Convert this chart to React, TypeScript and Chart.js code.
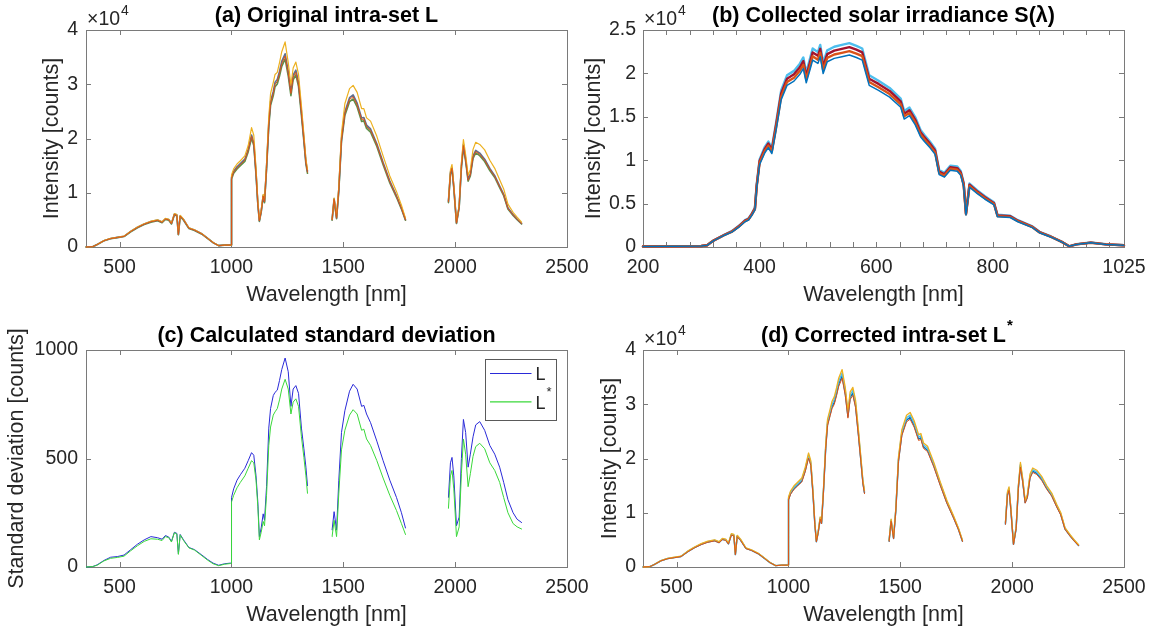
import React, { useEffect, useRef } from "react";
import { Chart, registerables } from "chart.js";

Chart.register(...registerables);

const FONT = '"Liberation Sans", Arial, Helvetica, sans-serif';
const TXT = "#262626";
const BOX = "#7a7a7a";

// ---------- Panels (a), (c), (d): wavelength grid [nm]; 1395 and 1875 are gaps ----------
const wlL = [
  350, 380, 400, 430, 460, 490, 520, 550, 580, 610, 640, 670, 690, 705, 720, 732, 745, 756, 763, 771, 786, 810, 835, 868, 893, 918, 943, 970, 996, 1000,
  1000.5, 1010, 1025, 1040, 1060, 1075, 1090, 1100, 1110, 1118, 1125, 1133, 1142, 1148, 1157, 1167, 1175, 1187, 1195, 1205, 1215, 1225, 1240, 1254, 1266, 1276, 1288, 1300, 1313, 1324, 1333, 1340,
  1395,
  1450, 1459, 1470, 1480, 1492, 1507, 1528, 1544, 1562, 1582, 1592, 1604, 1622, 1650, 1678, 1708, 1738, 1760, 1778,
  1875,
  1970, 1979, 1986, 1994, 2006, 2018, 2028, 2037, 2047, 2058, 2068, 2080, 2092, 2110, 2132, 2155, 2177, 2199, 2217, 2236, 2259, 2277, 2297,
];

// (a) Original intra-set L [counts]
const aMid = [
  0, 50, 450, 1150, 1550, 1750, 1950, 2850, 3600, 4200, 4650, 4900, 4550, 5150, 5000, 4300, 6000, 5850, 2300, 5700, 5000, 3450, 3100, 2400, 1600, 800, 250, 350, 350, 350,
  12700, 13800, 14600, 15200, 16000, 17800, 20400, 19000, 13500, 8000, 4800, 6500, 9400, 8300, 14500, 22500, 26500, 28300, 30000, 30500, 32000, 33800, 35200, 32000, 28300, 31300, 32200, 30000, 24600, 19700, 15500, 13800,
  null,
  5000, 8800, 5300, 10500, 19700, 24600, 27200, 27700, 26200, 23500, 23600, 22200, 21500, 18800, 15400, 12000, 9300, 7100, 5000,
  null,
  8300, 13600, 14500, 11000, 4400, 7400, 14800, 18700, 16000, 12300, 13300, 16600, 17600, 17100, 16000, 14300, 13000, 11100, 9600, 7100, 5900, 5100, 4300,
];
const aUpper = [
  0, 50, 455, 1165, 1570, 1770, 1975, 2885, 3645, 4250, 4705, 4960, 4605, 5210, 5060, 4350, 6070, 5920, 2330, 5770, 5060, 3490, 3140, 2430, 1620, 810, 255, 355, 355, 355,
  12850, 13960, 14780, 15380, 16190, 18010, 20640, 19230, 13660, 8100, 4860, 6580, 9510, 8400, 14670, 22770, 26820, 28640, 30360, 30870, 32380, 34210, 35620, 32380, 28640, 31680, 32590, 30360, 24900, 19940, 15690, 13970,
  null,
  5060, 8910, 5360, 10630, 19940, 24900, 27530, 28030, 26510, 23780, 23880, 22470, 21760, 19030, 15580, 12140, 9410, 7190, 5060,
  null,
  8400, 13760, 14670, 11130, 4450, 7490, 14980, 18920, 16190, 12450, 13460, 16800, 17810, 17310, 16190, 14470, 13160, 11230, 9720, 7190, 5970, 5160, 4350,
];
const aLower = [
  0, 50, 443, 1133, 1527, 1724, 1921, 2807, 3546, 4137, 4580, 4827, 4482, 5073, 4925, 4236, 5910, 5762, 2266, 5615, 4925, 3398, 3054, 2364, 1576, 788, 246, 345, 345, 345,
  12510, 13590, 14380, 14970, 15760, 17530, 20090, 18720, 13300, 7880, 4730, 6400, 9260, 8180, 14280, 22160, 26100, 27880, 29550, 30040, 31520, 33290, 34670, 31520, 27880, 30830, 31720, 29550, 24230, 19400, 15270, 13590,
  null,
  4930, 8670, 5220, 10340, 19400, 24230, 26790, 27280, 25810, 23150, 23250, 21870, 21180, 18520, 15170, 11820, 9160, 6990, 4930,
  null,
  8180, 13400, 14280, 10840, 4330, 7290, 14580, 18420, 15760, 12120, 13100, 16350, 17340, 16840, 15760, 14090, 12810, 10930, 9460, 6990, 5810, 5020, 4240,
];
const aTop = [
  0, 50, 460, 1175, 1585, 1790, 1995, 2915, 3680, 4295, 4755, 5010, 4655, 5265, 5115, 4400, 6140, 5985, 2350, 5830, 5115, 3530, 3170, 2455, 1635, 820, 255, 360, 360, 360,
  13300, 14400, 15300, 15900, 16800, 18700, 22000, 20600, 14500, 8600, 4900, 6800, 9700, 8600, 15400, 24000, 28300, 30300, 31800, 32200, 34000, 36000, 37800, 34000, 29800, 33000, 34100, 31800, 26000, 20700, 16200, 14300,
  null,
  5100, 9000, 5500, 11200, 21000, 26400, 29200, 29800, 28500, 25500, 25500, 23800, 23200, 20400, 16800, 13100, 10200, 7700, 5300,
  null,
  8500, 14200, 15200, 11500, 4500, 7700, 15600, 19800, 17000, 13200, 14300, 18000, 19300, 18900, 17900, 16000, 14500, 12400, 10700, 7900, 6400, 5500, 4600,
];

// (c) Standard deviation [counts]
const cL = [
  0, 2, 10, 30, 45, 48, 55, 80, 105, 125, 140, 135, 128, 145, 138, 118, 160, 155, 60, 150, 125, 90, 80, 55, 35, 18, 8, 15, 18, 18,
  320, 360, 400, 425, 455, 490, 527, 515, 420, 300, 140, 180, 245, 215, 370, 640, 730, 790, 805, 815, 860, 910, 963, 900, 740, 820, 836, 800, 640, 545, 460, 375,
  null,
  170, 255, 170, 400, 620, 720, 810, 842, 820, 740, 745, 705, 665, 580, 490, 400, 320, 250, 180,
  null,
  320, 480, 505, 420, 190, 230, 500, 680, 620, 460, 520, 600, 655, 670, 630, 560, 520, 460, 390, 310, 250, 220, 205,
];
const cLstar = [
  0, 2, 8, 28, 40, 44, 50, 75, 98, 118, 130, 128, 122, 140, 135, 115, 158, 152, 58, 148, 122, 88, 78, 52, 32, 15, 6, 13, 16, 16,
  300, 330, 365, 390, 420, 455, 490, 480, 400, 280, 125, 160, 210, 190, 330, 560, 645, 700, 715, 730, 770, 820, 865, 820, 705, 760, 775, 740, 600, 505, 420, 340,
  null,
  140, 215, 140, 340, 540, 630, 700, 725, 705, 630, 635, 590, 560, 490, 410, 330, 260, 200, 150,
  null,
  270, 420, 445, 360, 140, 185, 430, 590, 520, 370, 430, 510, 555, 570, 545, 480, 445, 390, 320, 250, 200, 185, 175,
];
const cLegendLabels = ["L", "L*"];

// (d) Corrected intra-set L* [counts]
const dTop = [
  0, 50, 460, 1180, 1590, 1795, 2000, 2920, 3690, 4305, 4765, 5020, 4665, 5280, 5125, 4410, 6150, 6000, 2360, 5845, 5125, 3535, 3180, 2460, 1640, 820, 255, 360, 360, 360,
  12900, 14040, 14970, 15580, 16400, 18350, 21010, 19580, 13840, 8200, 4820, 6560, 9230, 8300, 14660, 22860, 27270, 29210, 30550, 31370, 33010, 34850, 36390, 33110, 28700, 32290, 33110, 30750, 25220, 20190, 15990, 14150,
  null,
  4920, 8820, 5430, 10760, 20300, 25320, 27980, 28500, 26960, 24400, 24600, 22860, 22240, 19270, 15790, 12300, 9430, 7180, 4920,
  null,
  8200, 13840, 14760, 11070, 4310, 7380, 15170, 19270, 16400, 12300, 13330, 17120, 18250, 17840, 16710, 14970, 13630, 11580, 10050, 7280, 5950, 5020, 4100,
];
const dTeal = [
  0, 50, 454, 1160, 1560, 1765, 1965, 2875, 3630, 4235, 4685, 4940, 4585, 5190, 5040, 4335, 6050, 5895, 2320, 5745, 5040, 3480, 3125, 2420, 1615, 805, 252, 353, 353, 353,
  12700, 13810, 14720, 15320, 16130, 18040, 20660, 19250, 13610, 8060, 4740, 6450, 9070, 8160, 14410, 22480, 26810, 28730, 30040, 30840, 32460, 34270, 35780, 32560, 28220, 31750, 32560, 30240, 24800, 19860, 15720, 13910,
  null,
  4840, 8670, 5340, 10580, 19960, 24900, 27520, 28020, 26510, 23990, 24190, 22480, 21870, 18950, 15520, 12100, 9270, 7060, 4840,
  null,
  8060, 13610, 14520, 10890, 4230, 7260, 14920, 18950, 16130, 12100, 13100, 16830, 17940, 17540, 16430, 14720, 13410, 11390, 9880, 7160, 5850, 4940, 4030,
];
const dBlue = [
  0, 50, 446, 1140, 1540, 1735, 1935, 2825, 3570, 4165, 4615, 4860, 4515, 5110, 4960, 4265, 5950, 5805, 2280, 5655, 4960, 3420, 3075, 2380, 1585, 795, 248, 347, 347, 347,
  12500, 13590, 14480, 15080, 15870, 17760, 20340, 18950, 13390, 7940, 4660, 6350, 8930, 8040, 14190, 22120, 26390, 28270, 29560, 30360, 31940, 33730, 35220, 32040, 27780, 31250, 32040, 29760, 24400, 19540, 15480, 13690,
  null,
  4760, 8530, 5260, 10420, 19640, 24500, 27080, 27580, 26090, 23610, 23810, 22120, 21530, 18650, 15280, 11900, 9130, 6940, 4760,
  null,
  7940, 13390, 14280, 10710, 4170, 7140, 14680, 18650, 15870, 11900, 12900, 16570, 17660, 17260, 16170, 14480, 13190, 11210, 9720, 7040, 5750, 4860, 3970,
];
const dOrange = [
  0, 50, 441, 1127, 1519, 1715, 1911, 2793, 3528, 4116, 4557, 4802, 4459, 5047, 4900, 4214, 5880, 5733, 2254, 5586, 4900, 3381, 3038, 2352, 1568, 784, 245, 343, 343, 343,
  12350, 13430, 14310, 14900, 15680, 17540, 20090, 18720, 13230, 7840, 4610, 6270, 8820, 7940, 14010, 21850, 26070, 27930, 29200, 29990, 31560, 33320, 34790, 31650, 27440, 30870, 31650, 29400, 24110, 19310, 15290, 13520,
  null,
  4700, 8430, 5190, 10290, 19400, 24210, 26750, 27240, 25770, 23320, 23520, 21850, 21270, 18420, 15090, 11760, 9020, 6860, 4700,
  null,
  7840, 13230, 14110, 10580, 4120, 7060, 14500, 18420, 15680, 11760, 12740, 16370, 17440, 17050, 15970, 14310, 13030, 11070, 9600, 6960, 5680, 4800, 3920,
];

// ---------- Panel (b): collected solar irradiance ----------
const wlS = [
  200, 250, 300, 310, 320, 340, 353, 365, 375, 381, 387, 392, 395, 400, 409, 415, 421, 428, 437, 447,
  459, 469, 475, 480, 487, 491, 500, 504, 509, 516, 528, 541, 554, 566, 576, 582, 588, 604, 623, 642,
  648, 657, 667, 676, 683, 692, 701, 708, 717, 727, 739, 745, 750, 754, 760, 774, 786, 802, 808, 830,
  843, 868, 880, 899, 918, 931, 943, 968, 994, 1025,
];
const sHigh = [
  50, 80, 125, 205, 720, 1440, 1850, 2470, 3090, 3300, 3910, 4530, 7210, 10090, 11540, 12150, 11430, 14210, 18030, 19780,
  20290, 21120, 21840, 20090, 21840, 22870, 22450, 23280, 21220, 22660, 23070, 23280, 23480, 23180, 22870, 21320, 19780, 19160, 18330, 17100,
  15660, 16070, 14940, 13490, 12880, 12150, 11330, 8860, 8550, 9370, 9270, 8760, 7420, 3910, 7310, 6490, 5870, 5150, 3710, 3600,
  3090, 2370, 1750, 1240, 620, 82, 310, 515, 310, 205,
];
const sMidHigh = [
  50, 80, 121, 202, 707, 1414, 1818, 2424, 3030, 3230, 3840, 4440, 7070, 9900, 11310, 11920, 11210, 13940, 17680, 19390,
  19900, 20710, 21410, 19700, 21410, 22420, 22020, 22830, 20810, 22220, 22620, 22830, 23030, 22730, 22420, 20910, 19390, 18790, 17980, 16770,
  15350, 15760, 14650, 13230, 12630, 11920, 11110, 8690, 8380, 9190, 9090, 8590, 7270, 3840, 7170, 6360, 5760, 5050, 3640, 3535,
  3030, 2320, 1720, 1210, 606, 81, 303, 505, 303, 202,
];
const sMidLow = [
  50, 80, 119, 198, 693, 1386, 1782, 2376, 2970, 3170, 3760, 4360, 6930, 9700, 11090, 11680, 10990, 13660, 17330, 19010,
  19500, 20300, 20990, 19310, 20990, 21980, 21580, 22370, 20390, 21780, 22180, 22370, 22570, 22280, 21980, 20490, 19010, 18410, 17620, 16430,
  15050, 15440, 14360, 12970, 12380, 11680, 10890, 8510, 8220, 9010, 8910, 8420, 7130, 3760, 7030, 6240, 5640, 4950, 3560, 3465,
  2970, 2280, 1680, 1190, 594, 79, 297, 495, 297, 198,
];
const sLow = [
  50, 80, 116, 194, 680, 1360, 1750, 2330, 2910, 3100, 3690, 4270, 6790, 9510, 10860, 11450, 10770, 13390, 16980, 18620,
  19110, 19890, 20560, 18920, 20560, 21530, 21150, 21920, 19980, 21340, 21730, 21920, 22120, 21830, 21530, 20080, 18620, 18040, 17270, 16100,
  14740, 15130, 14070, 12710, 12130, 11450, 10670, 8340, 8050, 8830, 8730, 8250, 6980, 3690, 6890, 6110, 5530, 4850, 3490, 3400,
  2910, 2230, 1650, 1160, 580, 78, 290, 485, 290, 194,
];

// ---------- ticks ----------
const lXTicks = [500, 1000, 1500, 2000, 2500];
const lXTickLabels = ["500", "1000", "1500", "2000", "2500"];
const lYTicks = [0, 10000, 20000, 30000, 40000];
const lYTickLabels = ["0", "1", "2", "3", "4"];
const bXTicks = [200, 240, 280, 320, 360, 400, 440, 480, 520, 560, 600, 640, 680, 720, 760, 800, 840, 880, 920, 960, 1000, 1025];
const bXTickLabels = ["200", "", "", "", "", "400", "", "", "", "", "600", "", "", "", "", "800", "", "", "", "", "", "1025"];
const bYTicks = [0, 5000, 10000, 15000, 20000, 25000];
const bYTickLabels = ["0", "0.5", "1", "1.5", "2", "2.5"];
const cYTicks = [0, 500, 1000];
const cYTickLabels = ["0", "500", "1000"];

const panelTitles = [
  "(a) Original intra-set L",
  "(b) Collected solar irradiance S(λ)",
  "(c) Calculated standard deviation",
  "(d) Corrected intra-set L",
];
const panelTitleSup = ["", "", "", "*"];

// ---------- drawing helpers ----------
const H = 316;

function pts(xs: number[], ys: (number | null)[]) {
  return xs.map((x, i) => ({ x, y: ys[i] }));
}

const matlabPlugin = {
  id: "matlab",
  beforeDatasetsDraw(chart: any) {
    const { ctx, chartArea: ca } = chart;
    const xs = chart.scales.x;
    const ys = chart.scales.y;
    ctx.save();
    ctx.strokeStyle = BOX;
    ctx.lineWidth = 1;
    const TL = 5;
    ctx.beginPath();
    xs.ticks.forEach((t: any) => {
      const px = Math.round(xs.getPixelForValue(t.value)) + 0.5;
      ctx.moveTo(px, ca.bottom);
      ctx.lineTo(px, ca.bottom - TL);
      ctx.moveTo(px, ca.top);
      ctx.lineTo(px, ca.top + TL);
    });
    ys.ticks.forEach((t: any) => {
      const py = Math.round(ys.getPixelForValue(t.value)) + 0.5;
      ctx.moveTo(ca.left, py);
      ctx.lineTo(ca.left + TL, py);
      ctx.moveTo(ca.right, py);
      ctx.lineTo(ca.right - TL, py);
    });
    ctx.stroke();
    ctx.strokeRect(
      Math.round(ca.left) + 0.5,
      Math.round(ca.top) + 0.5,
      Math.round(ca.right - ca.left),
      Math.round(ca.bottom - ca.top)
    );
    ctx.restore();
  },
  afterDraw(chart: any, _a: any, opts: any) {
    const { ctx, chartArea: ca } = chart;
    ctx.save();
    // title
    ctx.font = `bold 21.5px ${FONT}`;
    ctx.fillStyle = "#000";
    ctx.textBaseline = "middle";
    ctx.textAlign = "left";
    const tw = ctx.measureText(opts.title).width;
    const cx = (ca.left + ca.right) / 2;
    const ty = ca.top - 13.5;
    ctx.fillText(opts.title, cx - tw / 2, ty);
    if (opts.titleSup) {
      ctx.font = `bold 15px ${FONT}`;
      ctx.fillText(opts.titleSup, cx + tw / 2 + 1, ty - 11);
    }
    // exponent
    if (opts.exponent) {
      ctx.fillStyle = TXT;
      ctx.font = `19.5px ${FONT}`;
      ctx.fillText("×10", ca.left + 1, ca.top - 10);
      const w = ctx.measureText("×10").width;
      ctx.font = `14px ${FONT}`;
      ctx.fillText(opts.exponent, ca.left + 1 + w + 1, ca.top - 19);
    }
    // legend
    if (opts.legend) {
      const items = opts.legend;
      const bw = 71;
      const bh = 61;
      const bx = Math.round(ca.right - 11.5 - bw) + 0.5;
      const by = Math.round(ca.top + 9.3) + 0.5;
      ctx.fillStyle = "#fff";
      ctx.fillRect(bx, by, bw, bh);
      ctx.strokeStyle = "#5a5a5a";
      ctx.lineWidth = 1;
      ctx.strokeRect(bx, by, bw, bh);
      items.forEach((it: any, i: number) => {
        const ly = by + 14 + i * 28.4;
        ctx.strokeStyle = it.color;
        ctx.lineWidth = 1.2;
        ctx.beginPath();
        ctx.moveTo(bx + 4.5, ly);
        ctx.lineTo(bx + 46, ly);
        ctx.stroke();
        ctx.fillStyle = TXT;
        ctx.font = `18px ${FONT}`;
        ctx.textBaseline = "middle";
        const base = it.label.replace("*", "");
        ctx.fillText(base, bx + 50, ly + 2);
        if (it.label.includes("*")) {
          const bw2 = ctx.measureText(base).width;
          ctx.font = `13px ${FONT}`;
          ctx.fillText("*", bx + 50 + bw2 + 1, ly - 9);
        }
      });
    }
    ctx.restore();
  },
};

function makeConfig(spec: any) {
  const tickFont = { family: FONT, size: 19.5 };
  const titleFont = { family: FONT, size: 21.5 };
  return {
    type: "line",
    data: { datasets: spec.datasets },
    options: {
      animation: false,
      responsive: false,
      devicePixelRatio: 1,
      events: [],
      layout: {
        autoPadding: false,
        padding: { left: 0, top: spec.area.top, right: spec.w - spec.area.right, bottom: 0 },
      },
      elements: {
        point: { radius: 0 },
        line: { tension: 0, borderJoinStyle: "round", borderCapStyle: "round" },
      },
      plugins: {
        legend: { display: false },
        tooltip: { enabled: false },
        title: { display: false },
        matlab: {
          title: spec.title,
          titleSup: spec.titleSup,
          exponent: spec.exponent,
          legend: spec.legend,
        },
      },
      scales: {
        x: {
          type: "linear",
          min: spec.xMin,
          max: spec.xMax,
          afterBuildTicks: (s: any) => {
            s.ticks = spec.xTicks.map((v: number) => ({ value: v }));
          },
          afterFit: (s: any) => {
            s.height = H - spec.area.bottom;
            s.paddingLeft = 0;
            s.paddingRight = 0;
            s.paddingTop = 0;
            s.paddingBottom = 0;
          },
          grid: { display: false, drawTicks: false },
          border: { display: false },
          ticks: {
            padding: 9,
            color: TXT,
            font: tickFont,
            maxRotation: 0,
            minRotation: 0,
            autoSkip: false,
            callback: (_v: any, i: number) => spec.xTickLabels[i],
          },
          title: {
            display: true,
            text: "Wavelength [nm]",
            color: TXT,
            font: titleFont,
            padding: { top: 0, bottom: spec.xTitlePad },
          },
        },
        y: {
          type: "linear",
          min: 0,
          max: spec.yMax,
          afterBuildTicks: (s: any) => {
            s.ticks = spec.yTicks.map((v: number) => ({ value: v }));
          },
          afterFit: (s: any) => {
            s.width = spec.area.left;
            s.paddingLeft = 0;
            s.paddingRight = 0;
            s.paddingTop = 0;
            s.paddingBottom = 0;
          },
          grid: { display: false, drawTicks: false },
          border: { display: false },
          ticks: {
            padding: spec.yTickPad,
            color: TXT,
            font: tickFont,
            autoSkip: false,
            callback: (_v: any, i: number) => spec.yTickLabels[i],
          },
          title: {
            display: true,
            text: spec.yTitle,
            color: TXT,
            font: titleFont,
            padding: { top: spec.yTitlePad, bottom: 0 },
          },
        },
      },
    },
    plugins: [matlabPlugin],
  } as any;
}

function line(label: string, xs: number[], ys: (number | null)[], color: string, width: number, order = 0) {
  return {
    label,
    data: pts(xs, ys),
    borderColor: color,
    backgroundColor: color,
    borderWidth: width,
    pointRadius: 0,
    fill: false,
    spanGaps: false,
    clip: 4,
    order,
  };
}

const specs = [
  {
    left: 0,
    top: 0,
    w: 600,
    area: { left: 86, right: 567, top: 30, bottom: 247 },
    xMin: 350,
    xMax: 2500,
    xTicks: lXTicks,
    xTickLabels: lXTickLabels,
    xTitlePad: 7.6,
    yMax: 40000,
    yTicks: lYTicks,
    yTickLabels: lYTickLabels,
    yTickPad: 8,
    yTitle: "Intensity [counts]",
    yTitlePad: 38.8,
    title: panelTitles[0],
    titleSup: panelTitleSup[0],
    exponent: "4",
    datasets: [
      line("L mid", wlL, aMid, "#D95319", 1),
      line("L top", wlL, aTop, "#EDB120", 1.2),
      line("L upper", wlL, aUpper, "#5f6f8e", 1.6),
      line("L lower", wlL, aLower, "#5f8f4a", 1.6),
    ],
  },
  {
    left: 577,
    top: 0,
    w: 577,
    area: { left: 66, right: 547, top: 30, bottom: 247 },
    xMin: 200,
    xMax: 1025,
    xTicks: bXTicks,
    xTickLabels: bXTickLabels,
    xTitlePad: 7.6,
    yMax: 25000,
    yTicks: bYTicks,
    yTickLabels: bYTickLabels,
    yTickPad: 7,
    yTitle: "Intensity [counts]",
    yTitlePad: 3.7,
    title: panelTitles[1],
    titleSup: panelTitleSup[1],
    exponent: "4",
    datasets: [
      line("S low", wlS, sLow, "#0072BD", 1.5),
      line("S mid-low", wlS, sMidLow, "#D95319", 2.4),
      line("S mid-high", wlS, sMidHigh, "#A2142F", 2.4),
      line("S high", wlS, sHigh, "#4DBEEE", 2.4),
    ],
  },
  {
    left: 0,
    top: 316,
    w: 600,
    area: { left: 86, right: 567, top: 34, bottom: 251 },
    xMin: 350,
    xMax: 2500,
    xTicks: lXTicks,
    xTickLabels: lXTickLabels,
    xTitlePad: 3.6,
    yMax: 1000,
    yTicks: cYTicks,
    yTickLabels: cYTickLabels,
    yTickPad: 8,
    yTitle: "Standard deviation [counts]",
    yTitlePad: 3.7,
    title: panelTitles[2],
    titleSup: panelTitleSup[2],
    exponent: "",
    legend: [
      { label: cLegendLabels[0], color: "#2a2ad8" },
      { label: cLegendLabels[1], color: "#3ad83a" },
    ],
    datasets: [
      line(cLegendLabels[0], wlL, cL, "#2a2ad8", 1, 1),
      line(cLegendLabels[1], wlL, cLstar, "#3ad83a", 1, 0),
    ],
  },
  {
    left: 577,
    top: 316,
    w: 577,
    area: { left: 66, right: 547, top: 34, bottom: 251 },
    xMin: 350,
    xMax: 2500,
    xTicks: lXTicks,
    xTickLabels: lXTickLabels,
    xTitlePad: 3.6,
    yMax: 40000,
    yTicks: lYTicks,
    yTickLabels: lYTickLabels,
    yTickPad: 7,
    yTitle: "Intensity [counts]",
    yTitlePad: 20.4,
    title: panelTitles[3],
    titleSup: panelTitleSup[3],
    exponent: "4",
    datasets: [
      line("L* bottom", wlL, dOrange, "#D95319", 1),
      line("L* top", wlL, dTop, "#EDB120", 1.3),
      line("L* teal", wlL, dTeal, "#4DBEEE", 1.4),
      line("L* blue", wlL, dBlue, "#0072BD", 1.4),
    ],
  },
];

function Panel({ spec }: { spec: any }) {
  const ref = useRef<HTMLCanvasElement>(null);
  useEffect(() => {
    const chart = new Chart(ref.current as HTMLCanvasElement, makeConfig(spec));
    return () => chart.destroy();
  }, [spec]);
  return (
    <canvas
      ref={ref}
      width={spec.w}
      height={H}
      style={{ position: "absolute", left: spec.left, top: spec.top, width: spec.w, height: H }}
    />
  );
}

export default function App() {
  return (
    <div style={{ position: "absolute", left: 0, top: 0, width: 1154, height: 632, background: "#fff" }}>
      {specs.map((s, i) => (
        <Panel key={i} spec={s} />
      ))}
    </div>
  );
}
